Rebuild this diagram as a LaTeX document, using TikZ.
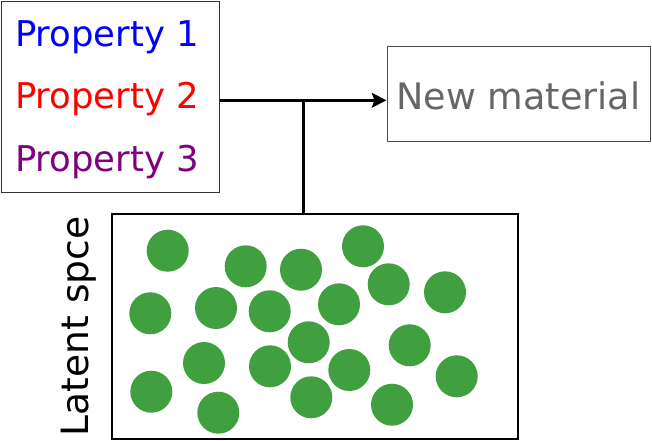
\documentclass[tikz,border=0pt]{standalone}
\usepackage{fontspec}
\setmainfont{DejaVu Sans}
\usetikzlibrary{arrows.meta}
\definecolor{dotgreen}{RGB}{64,160,64}
\definecolor{ptblue}{RGB}{0,0,255}
\definecolor{ptred}{RGB}{255,0,0}
\definecolor{ptpurple}{RGB}{128,0,128}
\definecolor{txtgray}{RGB}{102,102,102}
\tikzset{
  boxframe/.style={draw, rectangle, inner sep=0pt, anchor=north west},
  lbl/.style={inner sep=0pt, anchor=base west, font=\fontsize{26.6}{30}\selectfont},
  dot/.style={circle, fill=dotgreen, draw=none, minimum size=31.5pt, inner sep=0pt},
  conn/.style={line width=2.1pt}
}
\begin{document}
\begin{tikzpicture}[x=0.75pt,y=-0.75pt]
\useasboundingbox (0,0) rectangle (652,440);
% boxes
\node[boxframe, draw=black!80, line width=1.1pt, minimum width=163.5pt, minimum height=143.25pt] (props) at (1,1) {};
\node[boxframe, draw=black!70, line width=0.75pt, minimum width=197.25pt, minimum height=71.25pt] (newmat) at (386.5,46) {};
\node[boxframe, draw=black, line width=1.5pt, minimum width=304.5pt, minimum height=168.75pt] (latent) at (111,213) {};
% texts
\node[lbl, text=ptblue] (p1) at (14.8,46.7) {Property 1};
\node[lbl, text=ptred] (p2) at (14.8,108.3) {Property 2};
\node[lbl, text=ptpurple] (p3) at (14.8,171.5) {Property 3};
\node[lbl, text=txtgray, font=\fontsize{27.4}{30}\selectfont] (nmtext) at (396.3,109) {New material};
\node[lbl, rotate=90, font=\fontsize{28.2}{30}\selectfont] (lattext) at (88.3,436.5) {Latent spce};
% connectors
\coordinate (j) at (303.5,100.3);
\draw[conn, -{Stealth[length=11pt,width=11pt,inset=2pt]}] (props.east |- j) -- (newmat.west |- j);
\draw[conn] (j) -- (latent.north -| j);
% dots
\foreach \n/\x/\y in {1/167.7/250.7, 2/245.7/266.3, 3/301/269.7, 4/363/246.3, 5/388.7/284.3,
  6/445/292.3, 7/150.3/313.3, 8/216/308, 9/269.7/311.3, 10/339/304.3,
  11/308.7/342.3, 12/409.7/345.3, 13/204/363, 14/270/366.3, 15/349.3/370,
  16/456.7/376.3, 17/151.3/391.7, 18/218.3/412.7, 19/311.3/397.3, 20/392/404.7}
  \node[dot] (d\n) at (\x,\y) {};
\end{tikzpicture}
\end{document}
